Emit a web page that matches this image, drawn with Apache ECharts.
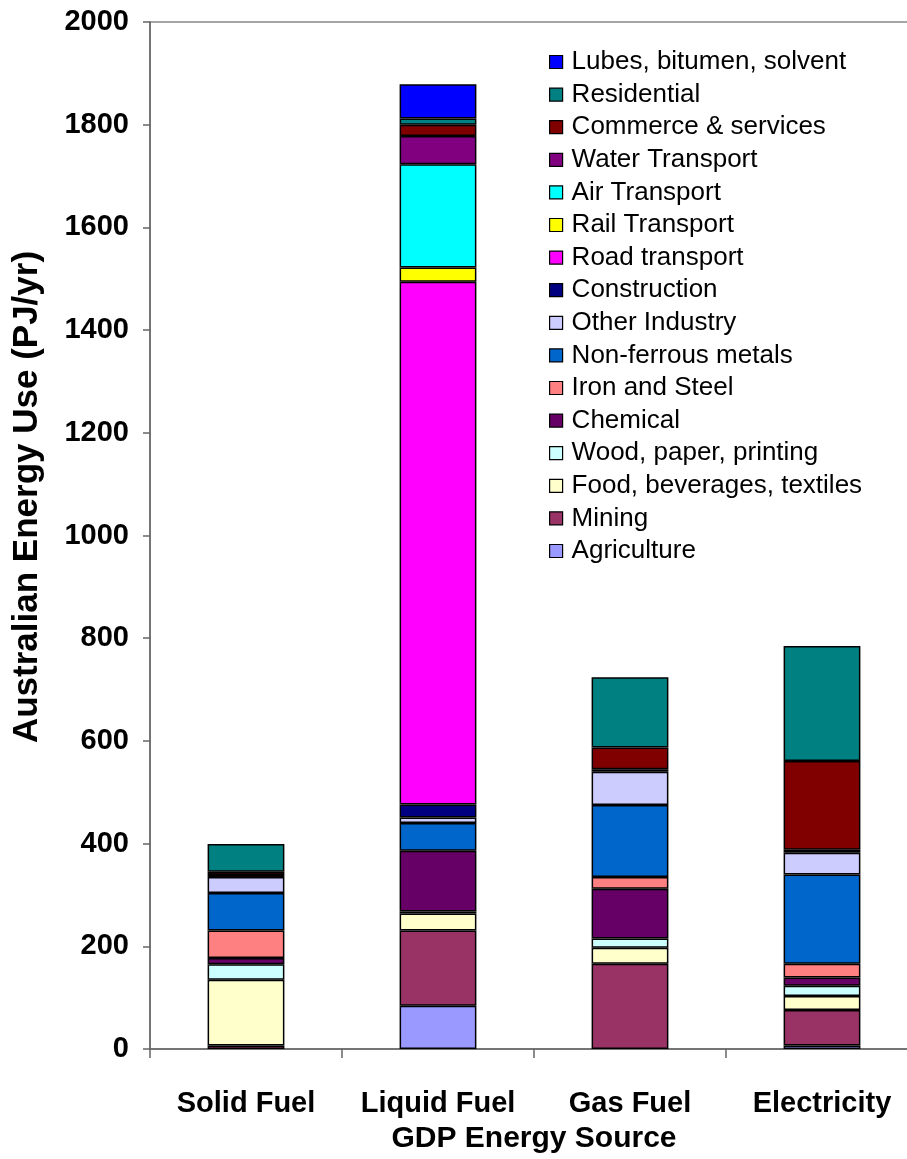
<!DOCTYPE html>
<html>
<head>
<meta charset="utf-8">
<script src="https://cdn.jsdelivr.net/npm/echarts@6/dist/echarts.min.js"></script>
<style>
html,body{margin:0;padding:0;background:#fff;overflow:hidden;}
#chart{width:940px;height:1159px;}
</style>
</head>
<body>
<div id="chart"></div>
<script>
// Categories
const categories = ['Solid Fuel', 'Liquid Fuel', 'Gas Fuel', 'Electricity'];
// Series values (PJ/yr), per category
const agriculture   = [0, 84, 0, 7];
const mining        = [7, 147, 166, 69];
const foodBev       = [128, 33, 31, 27];
const woodPaper     = [30, 4, 18, 20];
const chemical      = [12, 118, 97, 16];
const ironSteel     = [54, 0, 23, 27];
const nonFerrous    = [73, 54, 140, 174];
const otherIndustry = [31, 11, 65, 42];
const construction  = [4, 25, 5, 0];
const roadTransport = [0, 1018, 0, 0];
const railTransport = [0, 28, 0, 6];
const airTransport  = [0, 201, 0, 0];
const waterTransport= [0, 55, 0, 0];
const commerce      = [6, 22, 42, 173];
const residential   = [54, 12, 137, 224];
const lubes         = [0, 67, 0, 0];
// Y axis ticks
const yTicks = [0, 200, 400, 600, 800, 1000, 1200, 1400, 1600, 1800, 2000];

const seriesDefs = [
  ['Agriculture', agriculture, '#9999FF'],
  ['Mining', mining, '#993366'],
  ['Food, beverages, textiles', foodBev, '#FFFFCC'],
  ['Wood, paper, printing', woodPaper, '#CCFFFF'],
  ['Chemical', chemical, '#660066'],
  ['Iron and Steel', ironSteel, '#FF8080'],
  ['Non-ferrous metals', nonFerrous, '#0066CC'],
  ['Other Industry', otherIndustry, '#CCCCFF'],
  ['Construction', construction, '#000080'],
  ['Road transport', roadTransport, '#FF00FF'],
  ['Rail Transport', railTransport, '#FFFF00'],
  ['Air Transport', airTransport, '#00FFFF'],
  ['Water Transport', waterTransport, '#800080'],
  ['Commerce & services', commerce, '#800000'],
  ['Residential', residential, '#008080'],
  ['Lubes, bitumen, solvent', lubes, '#0000FF']
];

const chart = echarts.init(document.getElementById('chart'), null, {renderer: 'canvas'});
const FONT = '"Liberation Sans", Arial, sans-serif';

const option = {
  animation: false,
  backgroundColor: '#fff',
  grid: {
    left: 150, top: 22, width: 768, height: 1034,
    show: true, borderColor: '#888', borderWidth: 1.5, backgroundColor: '#fff'
  },
  legend: {
    orient: 'vertical',
    left: 549, top: 49,
    padding: 0,
    itemWidth: 13, itemHeight: 13,
    itemGap: 6.6,
    icon: 'rect',
    data: seriesDefs.map(d => d[0]).reverse(),
    textStyle: { fontFamily: FONT, fontSize: 26, color: '#000', lineHeight: 26, padding: [0,0,0,4] },
    itemStyle: { borderColor: '#000', borderWidth: 1.2 }
  },
  graphic: [{
    type: 'text',
    x: 27, y: 497,
    rotation: Math.PI / 2,
    style: {
      text: 'Australian Energy Use (PJ/yr)',
      font: 'bold 35px "Liberation Sans", Arial, sans-serif',
      fill: '#000',
      textAlign: 'center',
      textVerticalAlign: 'middle'
    }
  }],
  xAxis: {
    type: 'category',
    data: categories,
    name: 'GDP Energy Source',
    nameLocation: 'middle',
    nameGap: 75,
    nameTextStyle: { fontFamily: FONT, fontSize: 30, fontWeight: 'bold', color: '#000' },
    axisLine: { lineStyle: { color: '#666', width: 1.5 } },
    axisTick: { show: true, interval: 0, length: 9, inside: false, lineStyle: { color: '#666', width: 1.5 } },
    axisLabel: { interval: 0, fontFamily: FONT, fontSize: 29, fontWeight: 'bold', color: '#000', margin: 40 }
  },
  yAxis: {
    type: 'value',
    min: 0, max: 2000, interval: 200,
    axisLine: { show: true, lineStyle: { color: '#666', width: 1.5 } },
    axisTick: { show: true, length: 7, lineStyle: { color: '#666', width: 1.5 } },
    splitLine: { show: false },
    axisLabel: {
      fontFamily: FONT, fontSize: 29, fontWeight: 'bold', color: '#000', margin: 21,
      formatter: v => yTicks.includes(v) ? String(v) : ''
    }
  },
  series: seriesDefs.map(([name, vals, color]) => ({
    name: name,
    type: 'bar',
    stack: 'total',
    barWidth: '40%',
    data: vals.map(v => v === 0 ? null : v),
    itemStyle: { color: color, borderColor: '#000', borderWidth: 1.5 }
  }))
};
chart.setOption(option);
</script>
</body>
</html>
